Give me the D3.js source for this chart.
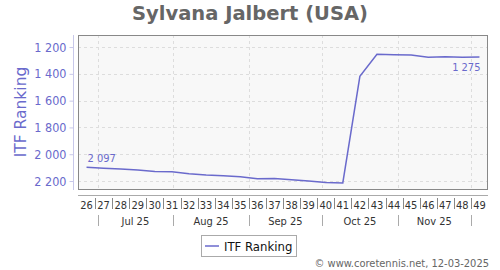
<!DOCTYPE html>
<html>
<head>
<meta charset="utf-8">
<script src="https://cdn.jsdelivr.net/npm/d3@7"></script>
<style>
  body { margin: 0; background: #fff; }
  svg { font-family: "DejaVu Sans", Verdana, sans-serif; }
  .small { font-family: "DejaVu Sans Condensed", "DejaVu Sans", sans-serif; font-stretch: condensed; }
</style>
</head>
<body>
<svg id="chart" width="500" height="270"></svg>
<script>
// data
const weeks = [26, 27, 28, 29, 30, 31, 32, 33, 34, 35, 36, 37, 38, 39, 40, 41, 42, 43, 44, 45, 46, 47, 48, 49];
const ranks = [2097, 2104, 2111, 2118, 2128, 2130, 2145, 2155, 2160, 2168, 2183, 2182, 2190, 2200, 2211, 2214, 1419, 1254, 1257, 1259, 1276, 1273, 1276, 1275];
const yTicks = [1200, 1400, 1600, 1800, 2000, 2200];
const title = "Sylvana Jalbert (USA)";
const seriesName = "ITF Ranking";

const purple = "#6a6acc";
const svg = d3.select("#chart");

// plot box
const plotL = 78, plotR = 488, plotT = 35, plotB = 190;

const week1 = Date.UTC(2025, 5, 23); // monday of week 26
const weekStart = w => new Date(week1 + (w - 26) * 7 * 864e5);

const x = d3.scaleUtc()
    .domain([weekStart(26), weekStart(50)])
    .range([plotL, plotR]);
const y = d3.scaleLinear()
    .domain([1110, 2267])
    .range([plotT, plotB]);

const data = weeks.map((w, i) => ({
    week: w,
    date: new Date(+weekStart(w) + 3.5 * 864e5),
    rank: ranks[i]
}));

// title
svg.append("text")
    .attr("x", 250).attr("y", 20)
    .attr("text-anchor", "middle")
    .attr("font-size", 19.5).attr("font-weight", "bold")
    .attr("fill", "#666")
    .text(title);

// plot background
svg.append("rect")
    .attr("x", plotL).attr("y", plotT)
    .attr("width", plotR - plotL).attr("height", plotB - plotT)
    .attr("fill", "#f8f8f8");

// grid
const months = d3.utcMonth.range(weekStart(26), weekStart(50));
svg.append("g").selectAll("line.h")
    .data(yTicks).join("line")
    .attr("x1", plotL).attr("x2", plotR)
    .attr("y1", d => Math.round(y(d)) + 0.5).attr("y2", d => Math.round(y(d)) + 0.5)
    .attr("stroke", "#ddd").attr("stroke-dasharray", "3,3");
svg.append("g").selectAll("line.v")
    .data(months).join("line")
    .attr("x1", d => Math.round(x(d)) + 0.5).attr("x2", d => Math.round(x(d)) + 0.5)
    .attr("y1", plotT).attr("y2", plotB)
    .attr("stroke", "#ddd").attr("stroke-dasharray", "3,3");

// border
svg.append("rect")
    .attr("x", plotL + 0.5).attr("y", plotT + 0.5)
    .attr("width", plotR - plotL - 1).attr("height", plotB - plotT - 1)
    .attr("fill", "none").attr("stroke", "#888");

// y axis
const yAxis = d3.axisLeft(y)
    .tickValues(yTicks)
    .tickSize(4)
    .tickFormat(d => d3.format(",")(d).replace(",", " "));
const gy = svg.append("g")
    .attr("transform", "translate(73.5,0)")
    .call(yAxis);
gy.select(".domain").attr("d", `M0,${plotT}V${plotB}`).attr("stroke", "#c8c8ea");
gy.selectAll(".tick line").attr("stroke", "#c8c8ea");
gy.selectAll(".tick text")
    .attr("class", "small")
    .attr("fill", purple).attr("font-size", 12.5)
    .attr("x", -7);

svg.append("text")
    .attr("transform", "translate(26,112) rotate(-90)")
    .attr("text-anchor", "middle")
    .attr("font-size", 15.5)
    .attr("fill", purple)
    .text(seriesName);

// x axis line
svg.append("line")
    .attr("x1", plotL).attr("x2", plotR)
    .attr("y1", 195.5).attr("y2", 195.5)
    .attr("stroke", "#aaa");

// week labels
svg.append("g").selectAll("text")
    .data(weeks).join("text")
    .attr("class", "small")
    .attr("x", d => x(new Date(+weekStart(d) + 3.5 * 864e5)))
    .attr("y", 208.5)
    .attr("text-anchor", "middle")
    .attr("font-size", 11).attr("fill", "#333")
    .text(d => d);
svg.append("g").selectAll("line")
    .data(weeks.slice(1)).join("line")
    .attr("x1", d => Math.round(x(weekStart(d))) + 0.5)
    .attr("x2", d => Math.round(x(weekStart(d))) + 0.5)
    .attr("y1", 198).attr("y2", 209)
    .attr("stroke", "#888");

// month labels
svg.append("g").selectAll("line")
    .data(months).join("line")
    .attr("x1", d => Math.round(x(d)) + 0.5).attr("x2", d => Math.round(x(d)) + 0.5)
    .attr("y1", 215).attr("y2", 226)
    .attr("stroke", "#aaa");
svg.append("g").selectAll("text")
    .data(months.slice(0, -1)).join("text")
    .attr("class", "small")
    .attr("x", d => (x(d) + x(d3.utcMonth.offset(d, 1))) / 2)
    .attr("y", 225)
    .attr("text-anchor", "middle")
    .attr("font-size", 11).attr("fill", "#333")
    .text(d => d3.utcFormat("%b %y")(d));

// line
const line = d3.line()
    .x(d => x(d.date))
    .y(d => y(d.rank));
svg.append("path")
    .datum(data)
    .attr("d", line)
    .attr("fill", "none")
    .attr("stroke", purple)
    .attr("stroke-width", 1.5);

// end labels
const fmt = d => d3.format(",")(d).replace(",", " ");
const first = data[0], last = data[data.length - 1];
svg.append("text")
    .attr("class", "small")
    .attr("x", x(first.date) + 1).attr("y", y(first.rank) - 5)
    .attr("font-size", 11).attr("fill", purple)
    .text(fmt(first.rank));
svg.append("text")
    .attr("class", "small")
    .attr("x", x(last.date) + 1).attr("y", y(last.rank) + 14)
    .attr("text-anchor", "end")
    .attr("font-size", 11).attr("fill", purple)
    .text(fmt(last.rank));

// legend
svg.append("rect")
    .attr("x", 201.5).attr("y", 235.5)
    .attr("width", 95).attr("height", 21)
    .attr("fill", "#fff").attr("stroke", "#aaa");
svg.append("line")
    .attr("x1", 205).attr("x2", 219)
    .attr("y1", 246).attr("y2", 246)
    .attr("stroke", purple).attr("stroke-width", 1.5);
svg.append("text")
    .attr("class", "small")
    .attr("x", 224).attr("y", 250.5)
    .attr("font-size", 13).attr("fill", "#111")
    .text(seriesName);

// credit
svg.append("text")
    .attr("class", "small")
    .attr("x", 489).attr("y", 267)
    .attr("text-anchor", "end")
    .attr("font-size", 11).attr("fill", "#666")
    .text("© www.coretennis.net, 12-03-2025");
</script>
</body>
</html>
